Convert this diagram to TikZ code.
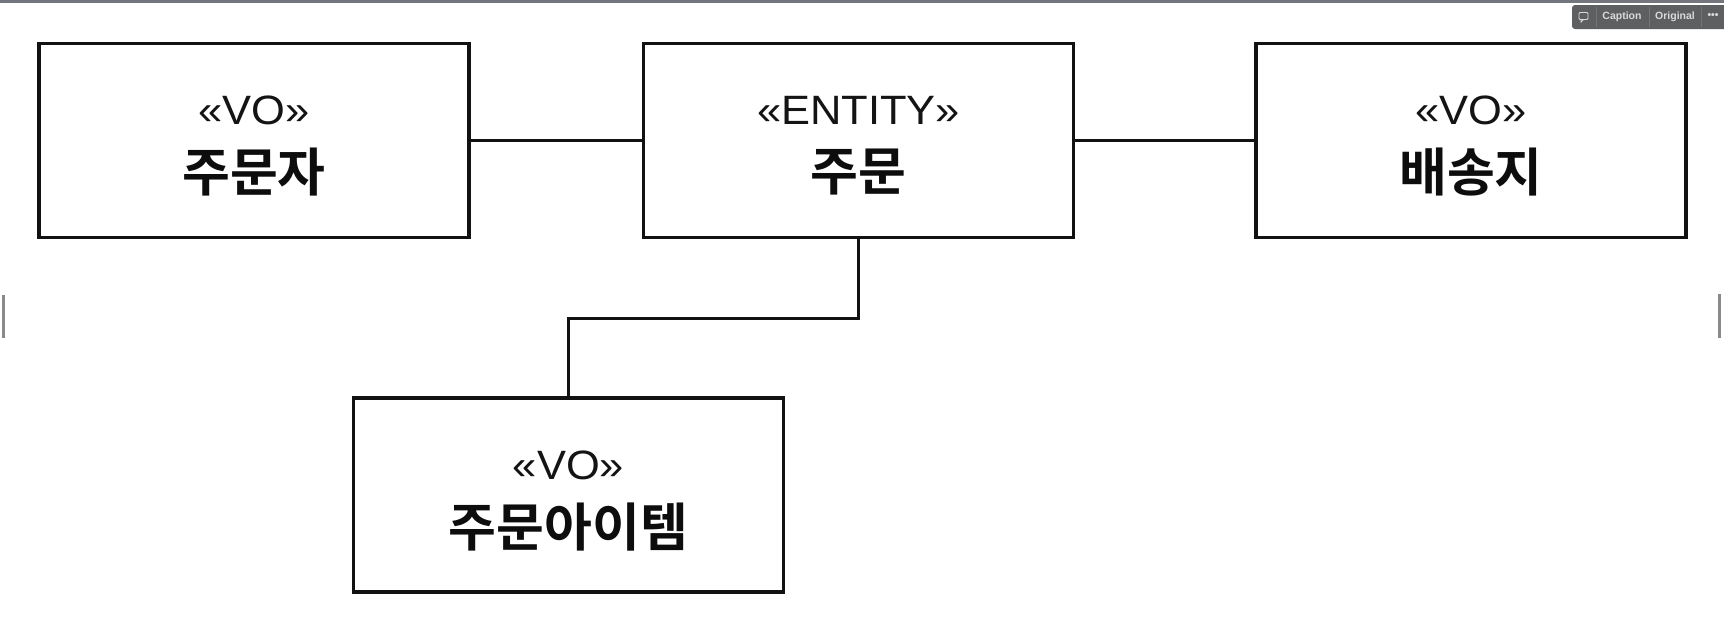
\documentclass[tikz,border=0pt]{standalone}
\usepackage{fontspec}
\setmainfont{Liberation Sans}
\newfontfamily\stfont{Liberation Sans}[FakeStretch=1.06]
\newfontfamily\kr{Noto Sans CJK KR}[BoldFont={* Bold}]
\newfontfamily\uifont{Liberation Sans}
\definecolor{topline}{HTML}{73767D}
\definecolor{badgebg}{HTML}{5E5F61}
\definecolor{badgetx}{HTML}{DADADA}
\definecolor{badgesep}{HTML}{747577}
\definecolor{edgemark}{HTML}{8A8A8A}
\tikzset{
  umlbox/.style={draw=black!93, line width=3.2pt, minimum width=430pt, minimum height=194pt, inner sep=0pt},
  stereo/.style={font=\stfont\fontsize{41}{43}\selectfont, inner sep=0pt, text=black!92},
  kname/.style={font=\kr\bfseries\fontsize{52}{54}\selectfont, inner sep=0pt, text=black!95},
  link/.style={line width=3.2pt, draw=black!93},
  uitext/.style={font=\uifont\bfseries\fontsize{10.5}{12}\selectfont, text=badgetx, inner sep=0pt},
}
\begin{document}
\begin{tikzpicture}[x=1pt,y=-1pt]
\useasboundingbox (0,0) rectangle (1724,632);
\fill[white] (0,0) rectangle (1724,632);
% screen artefacts
\fill[topline] (0,0) rectangle (1724,2.5);
\fill[badgebg, rounded corners=3pt] (1572,5) rectangle (1734,29);
\draw[badgesep, line width=0.8pt] (1596,7) -- (1596,27) (1649,7) -- (1649,27) (1701,7) -- (1701,27);
\draw[badgetx, line width=0.9pt, rounded corners=1pt] (1579,12.5) rectangle (1588,19.5);
\draw[badgetx, line width=0.9pt] (1581,19.5) -- (1581,22) -- (1583.5,19.5);
\node[uitext] (cap) at (1622,17) {Caption};
\node[uitext] (orig) at (1675,17) {Original};
\node[uitext] (dots) at (1713,16) {•••};
\fill[edgemark] (2,295) rectangle (5,338);
\fill[edgemark] (1718,294) rectangle (1721,338);
% boxes
\node[umlbox] (b1) at (254,140.5) {};
\node[umlbox] (b2) at (858.5,140.5) {};
\node[umlbox] (b3) at (1471,140.5) {};
\node[umlbox] (b4) at (568.5,495) {};
% labels
\node[stereo] (s1) at ([yshift=30pt]b1.center) {«VO»};
\node[kname] (n1) at ([yshift=-32pt]b1.center) {주문자};
\node[stereo] (s2) at ([yshift=30pt]b2.center) {«ENTITY»};
\node[kname] (n2) at ([yshift=-32pt]b2.center) {주문};
\node[stereo] (s3) at ([yshift=30pt]b3.center) {«VO»};
\node[kname] (n3) at ([yshift=-32pt]b3.center) {배송지};
\node[stereo] (s4) at ([yshift=30pt]b4.center) {«VO»};
\node[kname] (n4) at ([yshift=-32pt]b4.center) {주문아이템};
% connectors
\draw[link] (b1.east) -- (b2.west);
\draw[link] (b2.east) -- (b3.west);
\draw[link] (b2.south) -- ++(0,79) -| (b4.north);
\end{tikzpicture}
\end{document}
